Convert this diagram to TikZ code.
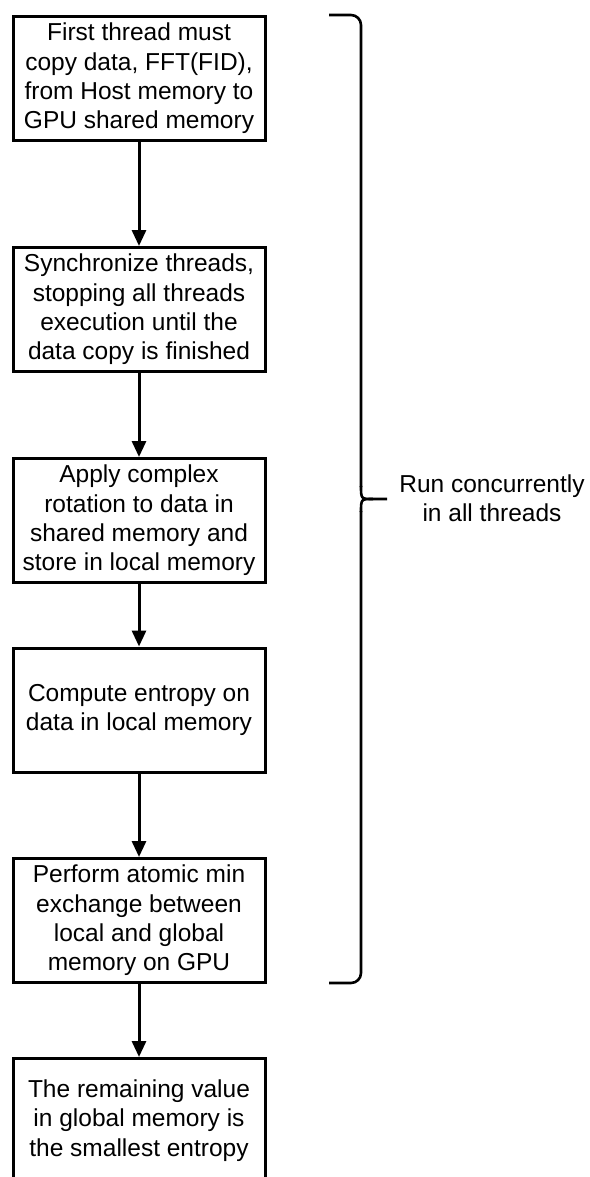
\documentclass[tikz,border=0pt]{standalone}
\usepackage{fontspec}
\setmainfont{Liberation Sans}
\usetikzlibrary{arrows.meta}
\tikzset{
  stepbox/.style={draw=black, line width=3pt, fill=white, minimum width=252pt,
    minimum height=124pt, inner sep=0pt, align=center,
    font=\fontsize{24.5pt}{29.4pt}\selectfont},
  flow/.style={line width=3pt, -{Triangle[width=14pt,length=16pt]}},
  bracket/.style={line width=2.6pt},
  note/.style={align=center, font=\fontsize{24.5pt}{29.4pt}\selectfont}
}
\begin{document}
\begin{tikzpicture}[x=1pt, y=-1pt]
  \useasboundingbox (0,0) rectangle (589,1177);
  \clip (0,0) rectangle (589,1177);
  \fill[white] (0,0) rectangle (589,1177);

  % processing steps
  \node[stepbox] (copy)    at (139,78.5)   {First thread must\\copy data, FFT(FID),\\from Host memory to\\GPU shared memory};
  \node[stepbox] (sync)    at (139,309.5)  {Synchronize threads,\\stopping all threads\\execution until the\\data copy is finished};
  \node[stepbox] (rotate)  at (139,520.5)  {Apply complex\\rotation to data in\\shared memory and\\store in local memory};
  \node[stepbox] (entropy) at (139,710)    {Compute entropy on\\data in local memory};
  \node[stepbox] (atomic)  at (139,920.5)  {Perform atomic min\\exchange between\\local and global\\memory on GPU};
  \node[stepbox] (result)  at (139,1120.5) {The remaining value\\in global memory is\\the smallest entropy};

  \draw[flow] (copy)    -- (sync);
  \draw[flow] (sync)    -- (rotate);
  \draw[flow] (rotate)  -- (entropy);
  \draw[flow] (entropy) -- (atomic);
  \draw[flow] (atomic)  -- (result);

  % brace spanning the concurrent steps
  \coordinate (btop) at (329,15);
  \coordinate (bbot) at (329,983);
  \coordinate (btip) at (387,499);
  \draw[bracket, rounded corners=10pt]
    (btop) -- (361,15) -- (361,487);
  \draw[bracket]
    (361,486) .. controls (361,499) .. (373,499) -- (btip);
  \draw[bracket]
    (373,499) .. controls (361,499) .. (361,512);
  \draw[bracket, rounded corners=10pt]
    (361,511) -- (361,983) -- (bbot);

  \node[note] (label) at (492,498) {Run concurrently\\in all threads};
\end{tikzpicture}
\end{document}
